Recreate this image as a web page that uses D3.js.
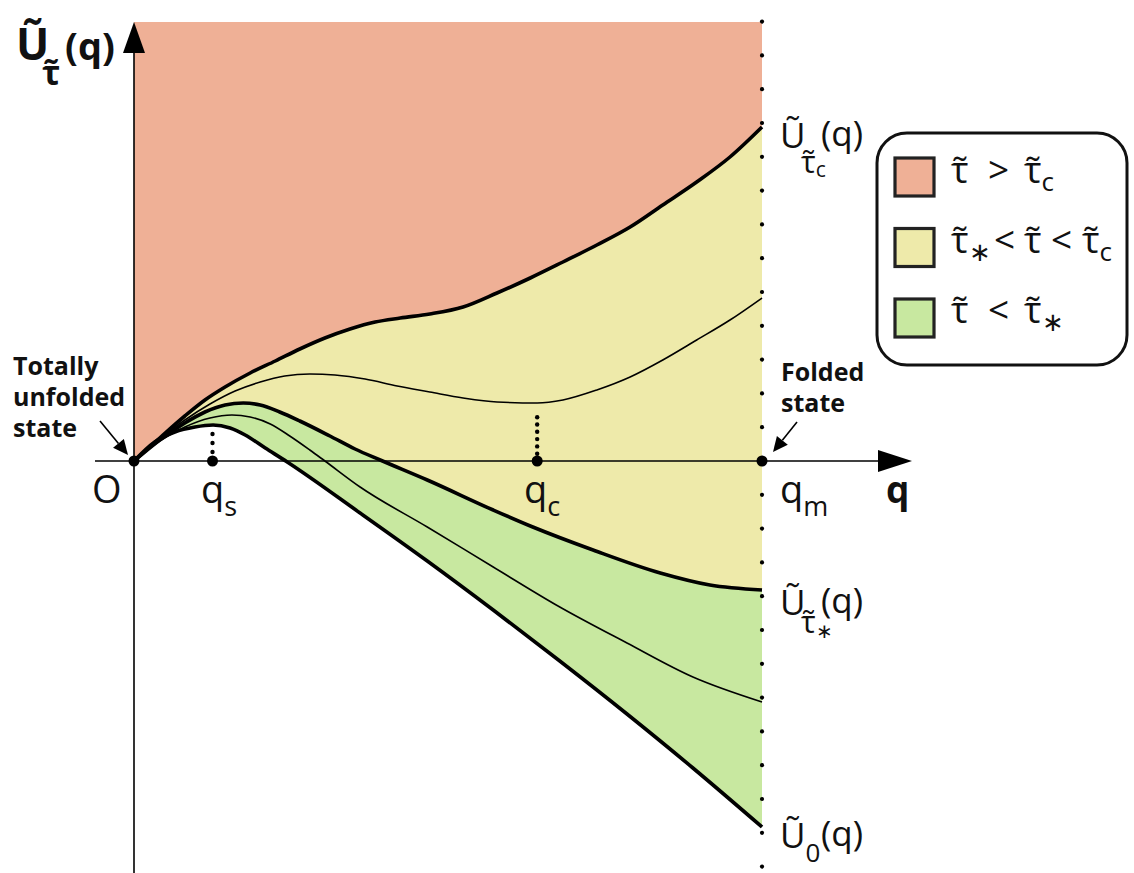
<!DOCTYPE html>
<html>
<head>
<meta charset="utf-8">
<script src="https://cdn.jsdelivr.net/npm/d3@7"></script>
<style>
  html, body { margin: 0; padding: 0; background: #fff; }
  svg { display: block; font-family: "Open Sans", "Noto Sans", sans-serif; }
</style>
</head>
<body>
<svg id="chart" width="1134" height="873"></svg>
<script>
// ---- data (q normalised so that q_m = 1, U in arbitrary units) ----
const U_tauC = [[0,0],[0.041,0.23],[0.081,0.45],[0.113,0.61],[0.145,0.74],[0.185,0.88],[0.225,1.00],[0.264,1.12],[0.304,1.23],[0.344,1.32],[0.384,1.39],[0.424,1.43],[0.471,1.47],[0.524,1.54],[0.578,1.68],[0.631,1.83],[0.683,1.99],[0.737,2.16],[0.790,2.34],[0.842,2.56],[0.896,2.79],[0.949,3.04],[1,3.34]];
const U_mid = [[0,0],[0.041,0.22],[0.081,0.41],[0.121,0.57],[0.161,0.70],[0.201,0.79],[0.240,0.85],[0.280,0.87],[0.320,0.86],[0.368,0.82],[0.419,0.75],[0.471,0.69],[0.524,0.63],[0.578,0.59],[0.642,0.58],[0.683,0.61],[0.737,0.71],[0.790,0.84],[0.842,1.01],[0.896,1.21],[0.949,1.41],[1,1.63]];
const U_tauStar = [[0,0],[0.041,0.21],[0.081,0.38],[0.113,0.49],[0.145,0.56],[0.174,0.58],[0.201,0.56],[0.232,0.49],[0.264,0.40],[0.312,0.25],[0.352,0.12],[0.392,0.01],[0.467,-0.19],[0.572,-0.49],[0.635,-0.66],[0.731,-0.89],[0.838,-1.12],[0.917,-1.24],[1,-1.29]];
const U_low = [[0,0],[0.041,0.20],[0.081,0.34],[0.121,0.43],[0.156,0.46],[0.185,0.44],[0.217,0.37],[0.248,0.25],[0.280,0.11],[0.304,0],[0.360,-0.26],[0.467,-0.66],[0.572,-1.06],[0.678,-1.46],[0.785,-1.82],[0.890,-2.16],[1,-2.41]];
const U_zero = [[0,0],[0.033,0.19],[0.065,0.29],[0.097,0.34],[0.126,0.36],[0.153,0.33],[0.177,0.26],[0.209,0.13],[0.244,-0.01],[0.360,-0.52],[0.467,-1.00],[0.572,-1.49],[0.678,-2.00],[0.785,-2.53],[0.890,-3.07],[1,-3.66]];
const U_top = 4.39;
const U_bottom = -4.12;
const qMarkers = [ {name:"s", q:0.125, U:0.34}, {name:"c", q:0.642, U:0.55} ];
const legendItems = ["red", "yellow", "green"];

// ---- scales ----
const x = d3.scaleLinear().domain([0, 1]).range([134, 762]);
const y = d3.scaleLinear().domain([0, 1]).range([461, 361]);

const svg = d3.select("#chart");
const colors = { red: "#efb096", yellow: "#eeeaaa", green: "#c8e8a0" };
const curve = d3.curveMonotoneX;
const line = d3.line().x(d => x(d[0])).y(d => y(d[1])).curve(curve);
const areaDown = d3.area().x(d => x(d[0])).y0(y(U_bottom)).y1(d => y(d[1])).curve(curve);
const areaUp = d3.area().x(d => x(d[0])).y0(y(U_top)).y1(d => y(d[1])).curve(curve);

// ---- fills (layered) ----
svg.append("path").attr("d", areaUp(U_tauC)).attr("fill", colors.red);
svg.append("path").attr("d", areaDown(U_tauC)).attr("fill", colors.yellow);
svg.append("path").attr("d", areaDown(U_tauStar)).attr("fill", colors.green);
svg.append("path").attr("d", areaDown(U_zero)).attr("fill", "#fff");

// ---- axes ----
svg.append("line").attr("x1", 95).attr("x2", 885).attr("y1", y(0)).attr("y2", y(0))
  .attr("stroke", "#000").attr("stroke-width", 1.6);
svg.append("path").attr("d", `M912,${y(0)}L878,${y(0)-11}L878,${y(0)+11}Z`).attr("fill", "#000");
svg.append("line").attr("x1", x(0)).attr("x2", x(0)).attr("y1", 873).attr("y2", 48)
  .attr("stroke", "#000").attr("stroke-width", 1.6);
svg.append("path").attr("d", `M${x(0)},22L${x(0)-11},53L${x(0)+11},53Z`).attr("fill", "#000");

// ---- curves ----
[[U_tauC, 3.6], [U_mid, 1.6], [U_tauStar, 3.6], [U_low, 1.6], [U_zero, 3.6]].forEach(([d, w]) => {
  svg.append("path").attr("d", line(d)).attr("fill", "none")
    .attr("stroke", "#000").attr("stroke-width", w).attr("stroke-linejoin", "round");
});

// ---- dotted vertical line at q_m ----
d3.range(-13, 13).forEach(k => {
  svg.append("circle").attr("cx", x(1)).attr("cy", y(0) + k * 33.8).attr("r", 2.1).attr("fill", "#000");
});

// ---- q_s, q_c markers ----
qMarkers.forEach((m, i) => {
  const step = i === 0 ? 9 : 7.3;
  const top = y(m.U) + 4;
  for (let yy = y(0) - step; yy >= top; yy -= step) {
    svg.append("circle").attr("cx", x(m.q)).attr("cy", yy).attr("r", 2.2).attr("fill", "#000");
  }
  svg.append("circle").attr("cx", x(m.q)).attr("cy", y(0)).attr("r", 5.5).attr("fill", "#000");
});
svg.append("circle").attr("cx", x(0)).attr("cy", y(0)).attr("r", 5.5).attr("fill", "#000");
svg.append("circle").attr("cx", x(1)).attr("cy", y(0)).attr("r", 5.5).attr("fill", "#000");

// ---- text helpers ----
const TAU = "\u03C4\u0303";
function rich(xp, yp, parts, opts = {}) {
  const t = svg.append("text").attr("x", xp).attr("y", yp)
    .attr("font-weight", opts.bold ? 700 : 400).attr("fill", "#111");
  parts.forEach(p => {
    const s = t.append("tspan").text(p.t).attr("font-size", p.s);
    if (p.x !== undefined) s.attr("x", p.x);
    if (p.y !== undefined) s.attr("y", p.y);
    if (p.dy !== undefined) s.attr("dy", p.dy);
  });
  return t;
}

// y-axis title
rich(16, 60, [{t:"\u0168", s:44}, {t:TAU, s:34, x:42, y:85}, {t:"(q)", s:38, x:65, y:60}], {bold:true});
// x-axis title
rich(886, 503, [{t:"q", s:37}], {bold:true});

// axis point labels
rich(92, 503, [{t:"O", s:38}]);
rich(201, 503, [{t:"q", s:38}, {t:"s", s:27, dy:13}]);
rich(524, 503, [{t:"q", s:38}, {t:"c", s:27, dy:13}]);
rich(780, 503, [{t:"q", s:38}, {t:"m", s:27, dy:13}]);

// curve end labels
rich(780, 148, [{t:"\u0168", s:35}, {t:TAU, s:31, x:801, y:173}, {t:"c", s:21, dy:4}, {t:"(q)", s:35, x:821, y:146}]);
rich(780, 615, [{t:"\u0168", s:35}, {t:TAU, s:31, x:801, y:633}, {t:"\u2217", s:20, dy:5}, {t:"(q)", s:35, x:821, y:613}]);
rich(780, 848, [{t:"\u0168", s:35}, {t:"0", s:26, dy:14}, {t:"(q)", s:35, x:821, y:846}]);

// state annotations
const unf = svg.append("text").attr("font-weight", 700).attr("font-size", 25).attr("fill", "#111");
["Totally", "unfolded", "state"].forEach((s, i) => unf.append("tspan").attr("x", 13).attr("y", 375 + i * 31).text(s));
const fol = svg.append("text").attr("font-weight", 700).attr("font-size", 25).attr("fill", "#111");
["Folded", "state"].forEach((s, i) => fol.append("tspan").attr("x", 781).attr("y", 381 + i * 31).text(s));

function arrow(x1, y1, x2, y2) {
  const ang = Math.atan2(y2 - y1, x2 - x1), L = 15, W = 7;
  const bx = x2 - L * Math.cos(ang), by = y2 - L * Math.sin(ang);
  svg.append("line").attr("x1", x1).attr("y1", y1).attr("x2", bx).attr("y2", by)
    .attr("stroke", "#000").attr("stroke-width", 1.6);
  svg.append("path").attr("d",
    `M${x2},${y2}L${bx + W * Math.sin(ang)},${by - W * Math.cos(ang)}L${bx - W * Math.sin(ang)},${by + W * Math.cos(ang)}Z`)
    .attr("fill", "#000");
}
arrow(100, 421, 128, 455);
arrow(797, 422, 773, 452);

// ---- legend ----
svg.append("rect").attr("x", 877).attr("y", 133).attr("width", 250).attr("height", 232)
  .attr("rx", 30).attr("fill", "#fff").attr("stroke", "#111").attr("stroke-width", 3);
legendItems.forEach((c, i) => {
  svg.append("rect").attr("x", 895).attr("y", 158 + i * 70.5).attr("width", 39).attr("height", 38)
    .attr("fill", colors[c]).attr("stroke", "#222").attr("stroke-width", 3.2);
});
const LS = 37, LSub = 26;
rich(951, 183, [{t:TAU, s:LS}, {t:">", s:LS, x:988}, {t:TAU, s:LS, x:1024}, {t:"c", s:LSub, dy:8}]);
rich(951, 253, [{t:TAU, s:LS}, {t:"\u2217", s:LSub, dy:8}, {t:"<", s:LS, x:994, dy:-8}, {t:TAU, s:LS, x:1024},
                {t:"<", s:LS, x:1051}, {t:TAU, s:LS, x:1082}, {t:"c", s:LSub, dy:8}]);
rich(951, 323, [{t:TAU, s:LS}, {t:"<", s:LS, x:988}, {t:TAU, s:LS, x:1024}, {t:"\u2217", s:LSub, dy:8}]);
</script>
</body>
</html>
